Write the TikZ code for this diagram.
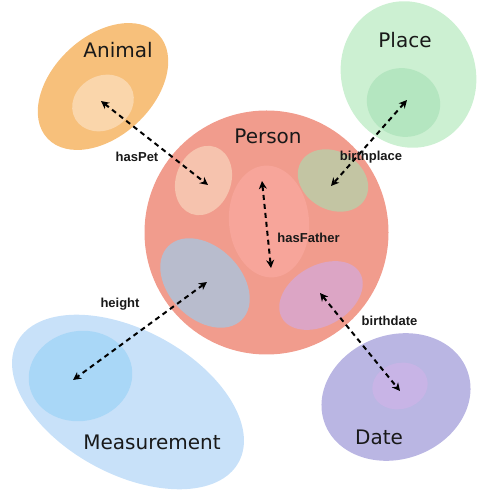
\documentclass[tikz,border=0pt]{standalone}
\usepackage{fontspec}
\setmainfont{Liberation Sans}
\newfontfamily\dejavu{DejaVu Sans}
\usetikzlibrary{arrows.meta}
\definecolor{cPerson}{HTML}{F19C8D}
\definecolor{cAnimalO}{HTML}{F7C07B}
\definecolor{cAnimalI}{HTML}{FAD6AB}
\definecolor{cPlaceO}{HTML}{CCF0D2}
\definecolor{cPlaceI}{HTML}{B4E6C0}
\definecolor{cMeasO}{HTML}{C8E1F9}
\definecolor{cMeasI}{HTML}{A9D7F7}
\definecolor{cDateO}{HTML}{BAB6E3}
\definecolor{cDateI}{HTML}{C8B4E6}
\definecolor{cTL}{HTML}{F6C3AE}
\definecolor{cTR}{HTML}{C3C5A3}
\definecolor{cMid}{HTML}{F7A59A}
\definecolor{cBL}{HTML}{B8BCCD}
\definecolor{cBR}{HTML}{DCA5C5}
\tikzset{
  title/.style={font=\dejavu\fontsize{20}{24}\selectfont, text=black!90, inner sep=0pt},
  rel/.style={font=\bfseries\fontsize{13}{15}\selectfont, text=black!90, inner sep=0pt},
  link/.style={line width=2pt, dash pattern=on 5pt off 4pt,
    {Stealth[length=8pt,width=8pt,inset=2.5pt]}-{Stealth[length=8pt,width=8pt,inset=2.5pt]}},
}
\begin{document}
\begin{tikzpicture}[x=1pt,y=1pt]
\useasboundingbox (0,0) rectangle (477,493);
% outer classes
\fill[cAnimalO, rotate around={43:(103,406.5)}] (103,406.5) ellipse (76 and 50);
\fill[cAnimalI, rotate around={30:(103,390)}] (103,390) ellipse (32 and 27);
\fill[cPlaceO, rotate around={110:(408.5,418.5)}] (408.5,418.5) ellipse (74 and 67);
\fill[cPlaceI, rotate around={-20:(403.5,390.5)}] (403.5,390.5) ellipse (37 and 34);
\fill[cMeasO, rotate around={-28.5:(128,91)}] (128,91) ellipse (126 and 72);
\fill[cMeasI, rotate around={10:(80.5,117)}] (80.5,117) ellipse (52 and 45);
\fill[cDateO, rotate around={20:(396,96)}] (396,96) ellipse (76 and 62);
\fill[cDateI, rotate around={15:(400,107)}] (400,107) ellipse (28 and 23);
% person
\fill[cPerson] (266.5,260.5) circle (122);
\fill[cTL, rotate around={70:(203.5,312.5)}] (203.5,312.5) ellipse (35.5 and 27.5);
\fill[cTR, rotate around={-30:(333,312.5)}] (333,312.5) ellipse (37 and 29);
\fill[cMid, rotate around={95:(269,271.5)}] (269,271.5) ellipse (56 and 40);
\fill[cBL, rotate around={-45:(205,210)}] (205,210) ellipse (52 and 36);
\fill[cBR, rotate around={30:(321,197.5)}] (321,197.5) ellipse (45 and 30);
% titles
\node[title] (tAnimal) at (118,443) {Animal};
\node[title] (tPlace) at (405,453) {Place};
\node[title] (tPerson) at (268,357) {Person};
\node[title] (tMeas) at (152,51) {Measurement};
\node[title] (tDate) at (379,56) {Date};
% endpoints
\coordinate (petA) at (101,392);
\coordinate (petB) at (208,308);
\coordinate (plA) at (407,393);
\coordinate (plB) at (331,307);
\coordinate (faA) at (262,312);
\coordinate (faB) at (271,225);
\coordinate (hA) at (207,211);
\coordinate (hB) at (73,113);
\coordinate (bdA) at (320,200);
\coordinate (bdB) at (400,102);
\draw[link] (petA) -- (petB);
\draw[link] (plA) -- (plB);
\draw[link] (faA) -- (faB);
\draw[link] (hA) -- (hB);
\draw[link] (bdA) -- (bdB);
% labels
\node[rel] (lPet) at (137,336) {hasPet};
\node[rel] (lPlace) at (371,336) {birthplace};
\node[rel] (lFather) at (308.5,255) {hasFather};
\node[rel] (lHeight) at (120,189) {height};
\node[rel] (lDate) at (389.5,172) {birthdate};
\end{tikzpicture}
\end{document}
